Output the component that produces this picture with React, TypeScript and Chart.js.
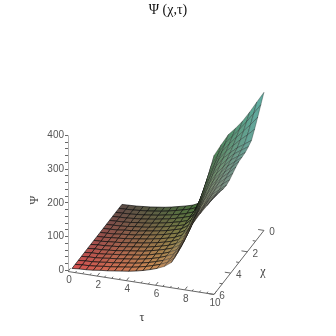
import React, { useEffect, useRef } from "react";
import { Chart, registerables } from "chart.js";

Chart.register(...registerables);

const titleText = "Ψ (χ,τ)";
const tauSamples = [0, 0.5, 1, 1.5, 2, 2.5, 3, 3.5, 4, 4.5, 5, 5.5, 6, 6.5, 7, 7.5, 8, 8.5, 9, 9.5, 10];
const chiSamples = [0, 0.375, 0.75, 1.125, 1.5, 1.875, 2.25, 2.625, 3, 3.375, 3.75, 4.125, 4.5, 4.875, 5.25, 5.625, 6];
// one row per tau sample, one column per chi sample
const psiTable = [
  [0, 0, 0, 0, 0, 0, 0, 0, 0, 0, 0, 0, 0, 0, 0, 0, 0],
  [1, 1, 1, 1, 1, 1, 1, 1, 1, 1, 2, 2, 2, 2, 2, 2, 2],
  [2, 2, 2, 2, 2, 2, 2, 2, 3, 3, 3, 3, 3, 3, 3, 3, 3],
  [4, 4, 4, 4, 4, 4, 5, 5, 5, 5, 5, 5, 5, 5, 5, 5, 5],
  [6, 6, 6, 6, 7, 7, 7, 7, 7, 7, 7, 7, 8, 8, 8, 8, 8],
  [9, 9, 9, 9, 9, 9, 9, 9, 10, 10, 10, 10, 10, 10, 10, 10, 10],
  [12, 12, 12, 12, 12, 12, 13, 13, 13, 13, 13, 13, 13, 13, 13, 13, 13],
  [16, 16, 16, 16, 16, 16, 16, 16, 16, 16, 16, 16, 16, 16, 16, 16, 16],
  [21, 21, 20, 20, 20, 20, 20, 20, 20, 20, 19, 19, 19, 19, 19, 19, 19],
  [26, 26, 25, 25, 25, 25, 24, 24, 24, 24, 24, 24, 23, 23, 23, 23, 23],
  [32, 32, 31, 31, 30, 30, 30, 30, 29, 29, 29, 29, 29, 28, 28, 28, 28],
  [42, 40, 39, 38, 37, 36, 36, 35, 35, 35, 35, 35, 34, 34, 34, 34, 34],
  [115, 98, 84, 72, 62, 55, 50, 47, 45, 44, 43, 42, 42, 42, 41, 41, 41],
  [190, 170, 152, 136, 120, 104, 90, 78, 68, 61, 56, 54, 52, 51, 50, 50, 50],
  [225, 208, 194, 181, 168, 154, 141, 128, 115, 104, 94, 86, 79, 74, 70, 67, 65],
  [258, 244, 232, 221, 210, 198, 186, 175, 164, 154, 144, 135, 127, 120, 114, 109, 105],
  [280, 268, 257, 247, 238, 228, 218, 209, 200, 192, 185, 179, 173, 168, 164, 160, 157],
  [305, 292, 280, 268, 258, 250, 242, 235, 228, 221, 215, 209, 203, 199, 196, 193, 190],
  [335, 318, 302, 288, 276, 270, 264, 258, 252, 247, 242, 237, 233, 230, 227, 224, 222],
  [368, 346, 325, 306, 290, 284, 278, 274, 270, 265, 260, 255, 250, 250, 250, 250, 250],
  [400, 375, 350, 326, 305, 298, 293, 291, 290, 285, 278, 271, 267, 268, 272, 275, 278],
];
const psiTicks = [0, 20, 40, 60, 80, 100, 120, 140, 160, 180, 200, 220, 240, 260, 280, 300, 320, 340, 360, 380, 400];
const psiLabels = [0, 100, 200, 300, 400];
const tauTicks = [0, 2, 4, 6, 8, 10];
const tauMinor = [0.5, 1, 1.5, 2.5, 3, 3.5, 4.5, 5, 5.5, 6.5, 7, 7.5, 8.5, 9, 9.5];
const chiTicks = [0, 2, 4, 6];
const chiMinor = [1, 3, 5];

// oblique view: horizontal position in page units, vertical position in Psi units
const surfaceView = { ox: 72, tx: 14.2, cx: 8.33, oy: 6, ty: -6.8, cy: 31.6 };
const axisView = { ox: 68, tx: 14.6, cx: 8.33, oy: -3, ty: -6.8, cy: 31.6 };
const project = (v: typeof surfaceView, tau: number, chi: number, psi: number) => ({
  x: v.ox + v.tx * tau + v.cx * (6 - chi),
  y: psi + v.oy + v.ty * tau + v.cy * (6 - chi),
});

const shadeKnots = [
  { tau: 0, far: [90, 75, 70], near: [215, 80, 80] },
  { tau: 5.5, far: [70, 115, 60], near: [205, 140, 85] },
  { tau: 10, far: [95, 175, 165], near: [125, 130, 120] },
];
const shade = (tau: number, chi: number) => {
  const k = tau < 5.5 ? 0 : 1;
  const a = shadeKnots[k];
  const b = shadeKnots[k + 1];
  const t = (tau - a.tau) / (b.tau - a.tau);
  const c = chi / 6;
  const mix = (i: number) => {
    const top = a.far[i] + (b.far[i] - a.far[i]) * t;
    const bot = a.near[i] + (b.near[i] - a.near[i]) * t;
    return Math.round(top + (bot - top) * c);
  };
  return `rgb(${mix(0)},${mix(1)},${mix(2)})`;
};

function buildDatasets() {
  const paint: any[] = [];
  const axisColor = "#666666";
  const axisSegments: any[] = [];
  const seg = (a: any, b: any) => {
    axisSegments.push(a, b, { x: NaN, y: NaN });
  };
  seg({ x: axisView.ox, y: 0 }, { x: axisView.ox, y: 400 });
  seg(project(axisView, 0, 6, 0), project(axisView, 10, 6, 0));
  seg(project(axisView, 10, 6, 0), project(axisView, 10, 0, 0));
  tauTicks.forEach((t) => seg(project(axisView, t, 6, 0), project(axisView, t, 5.7, 0)));
  tauMinor.forEach((t) => seg(project(axisView, t, 6, 0), project(axisView, t, 5.85, 0)));
  chiTicks.forEach((c) => seg(project(axisView, 10, c, 0), project(axisView, 9.6, c, 0)));
  chiMinor.forEach((c) => seg(project(axisView, 10, c, 0), project(axisView, 9.8, c, 0)));
  paint.push({
    data: axisSegments,
    showLine: true,
    spanGaps: false,
    pointRadius: 0,
    borderColor: axisColor,
    borderWidth: 1,
    fill: false,
  });
  for (let c = 0; c < chiSamples.length - 1; c++) {
    for (let t = 0; t < tauSamples.length - 1; t++) {
      const pts = [
        project(surfaceView, tauSamples[t], chiSamples[c], psiTable[t][c]),
        project(surfaceView, tauSamples[t + 1], chiSamples[c], psiTable[t + 1][c]),
        project(surfaceView, tauSamples[t + 1], chiSamples[c + 1], psiTable[t + 1][c + 1]),
        project(surfaceView, tauSamples[t], chiSamples[c + 1], psiTable[t][c + 1]),
      ];
      const steep = tauSamples[t] >= 6;
      paint.push({
        data: [...pts, pts[0]],
        showLine: true,
        pointRadius: 0,
        tension: 0,
        borderColor: steep ? "rgba(15,15,15,0.6)" : "rgba(15,15,15,0.85)",
        borderWidth: steep ? 0.5 : 0.8,
        backgroundColor: shade((tauSamples[t] + tauSamples[t + 1]) / 2, (chiSamples[c] + chiSamples[c + 1]) / 2),
        fill: "shape",
      });
    }
  }
  return paint.reverse();
}

const textPlugin = {
  id: "axisText",
  afterDatasetsDraw(chart: any) {
    const { ctx, scales } = chart;
    const put = (s: string, p: { x: number; y: number }, dx: number, dy: number) =>
      ctx.fillText(s, scales.x.getPixelForValue(p.x) + dx, scales.y.getPixelForValue(p.y) + dy);
    ctx.save();
    ctx.textAlign = "center";
    ctx.textBaseline = "middle";
    ctx.fillStyle = "#555555";
    ctx.font = "10px 'Liberation Sans'";
    tauTicks.forEach((t) => put(String(t), project(axisView, t, 6, 0), 1, 9));
    chiTicks.forEach((c) => put(String(c), project(axisView, 10, c, 0), 8, 2));
    ctx.fillStyle = "#333333";
    ctx.font = "12px 'Liberation Serif'";
    put("τ", project(axisView, 5, 6, 0), 1, 35);
    put("χ", project(axisView, 10, 3, 0), 24, 9);
    ctx.translate(35, 200);
    ctx.rotate(-Math.PI / 2);
    ctx.fillText("Ψ", 0, 0);
    ctx.restore();
  },
};

export default function App() {
  const ref = useRef<HTMLCanvasElement>(null);
  useEffect(() => {
    const chart = new Chart(ref.current as HTMLCanvasElement, {
      type: "scatter",
      data: { datasets: buildDatasets() },
      plugins: [textPlugin],
      options: {
        animation: false,
        responsive: false,
        layout: { padding: 0, autoPadding: false },
        plugins: {
          legend: { display: false },
          tooltip: { enabled: false },
          title: {
            display: true,
            text: titleText,
            color: "#111111",
            font: { family: "'Liberation Serif'", size: 14, weight: "normal", lineHeight: 1.2 },
            padding: { top: 2, bottom: 0 },
          },
        },
        scales: {
          x: { type: "linear", min: 68, max: 336, display: false },
          y: {
            type: "linear",
            min: -173.3,
            max: 745.2,
            border: { display: false },
            grid: { drawOnChartArea: false, tickLength: 3, tickColor: "#666666", tickWidth: 1 },
            afterFit: (s: any) => {
              s.width = 68;
            },
            afterBuildTicks: (s: any) => {
              s.ticks = psiTicks.map((value) => ({ value }));
            },
            ticks: {
              autoSkip: false,
              padding: 1,
              maxRotation: 0,
              color: "#555555",
              font: { family: "'Liberation Sans'", size: 10 },
              callback: (v: any) => (psiLabels.includes(v) ? String(v) : ""),
            },
          },
        },
      } as any,
    });
    return () => chart.destroy();
  }, []);
  return (
    <div style={{ position: "absolute", left: 0, top: 0, width: 336, height: 336, background: "#fff" }}>
      <canvas ref={ref} width={336} height={336} style={{ display: "block", filter: "blur(0.3px)" }} />
    </div>
  );
}
